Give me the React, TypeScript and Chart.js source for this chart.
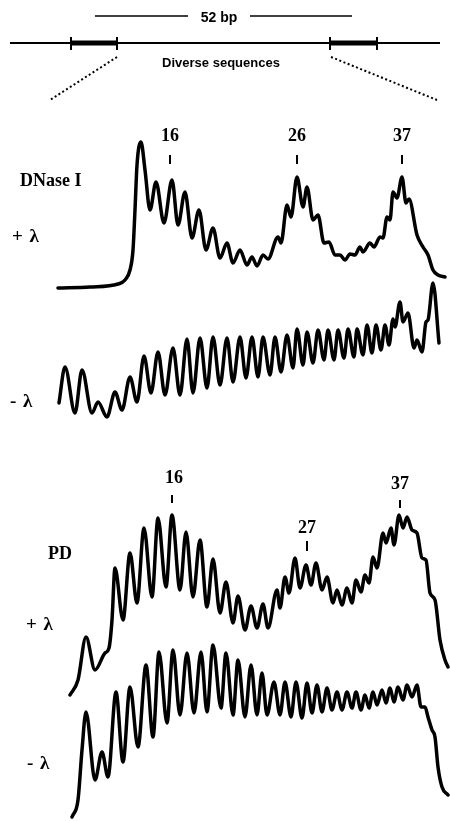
import React, { useEffect, useRef } from "react";
import { Chart, registerables } from "chart.js";
Chart.register(...registerables);

// ---- Densitometer scans (x = scan position, y = relative intensity) ----
const DNASE_PLUS_X = [58, 90, 118, 125, 130, 133, 135, 137, 141, 145, 150, 156, 164, 172, 178, 185, 192, 199, 206, 213, 220, 227, 233, 240, 247, 252, 257, 263, 268, 278, 281, 287, 291, 297, 303, 307, 313, 318, 324, 329, 335, 340, 345, 350, 355, 360, 363, 370, 374, 380, 383, 387, 390, 393, 397, 402, 406, 409, 417, 423, 428, 433, 438, 445];
const DNASE_PLUS_Y = [2, 3, 6, 10, 20, 40, 80, 125, 148, 120, 80, 108, 67, 110, 65, 98, 52, 80, 40, 62, 32, 47, 27, 40, 25, 33, 24, 35, 31, 53, 47, 85, 73, 113, 83, 103, 70, 75, 47, 48, 35, 35, 30, 36, 35, 43, 38, 47, 43, 53, 52, 73, 70, 98, 92, 113, 87, 91, 55, 43, 35, 20, 15, 13];

const DNASE_MINUS_X = [59, 65, 75, 82, 92, 98, 107, 115, 122, 130, 137, 144, 151, 158, 165, 173, 180, 187, 193, 200, 207, 213, 220, 227, 233, 240, 246, 252, 258, 263, 270, 275, 281, 287, 293, 297, 303, 307, 313, 318, 324, 328, 334, 338, 344, 348, 354, 357, 363, 367, 372, 376, 381, 385, 389, 393, 395, 400, 403, 408, 414, 417, 422, 426, 428, 433, 439];
const DNASE_MINUS_Y = [17, 53, 7, 50, 7, 18, 3, 28, 10, 43, 18, 64, 27, 68, 25, 72, 25, 81, 27, 82, 32, 83, 35, 82, 38, 83, 42, 83, 43, 83, 45, 83, 48, 85, 52, 91, 55, 88, 57, 90, 60, 90, 60, 90, 62, 91, 63, 91, 65, 95, 67, 95, 70, 95, 75, 101, 93, 118, 98, 107, 72, 80, 68, 98, 100, 137, 77];

const PD_PLUS_X = [70, 78, 86, 95, 105, 109, 112, 115, 123, 130, 137, 144, 152, 158, 166, 172, 180, 186, 193, 200, 207, 213, 220, 226, 233, 238, 245, 251, 257, 263, 268, 277, 280, 285, 289, 295, 300, 306, 311, 316, 322, 327, 333, 337, 342, 347, 352, 356, 361, 365, 369, 373, 377, 383, 386, 391, 394, 399, 403, 407, 412, 417, 422, 426, 430, 435, 440, 445, 448];
const PD_PLUS_Y = [5, 20, 63, 30, 47, 52, 80, 132, 80, 147, 97, 172, 103, 182, 113, 185, 110, 168, 103, 160, 93, 141, 87, 118, 77, 104, 70, 94, 72, 96, 72, 110, 92, 123, 107, 142, 112, 135, 115, 137, 110, 123, 97, 110, 95, 112, 97, 120, 108, 125, 117, 143, 132, 167, 157, 172, 155, 185, 172, 183, 170, 167, 142, 140, 107, 100, 60, 40, 33];

const PD_MINUS_X = [72, 78, 82, 86, 95, 102, 108, 116, 123, 130, 138, 146, 153, 159, 167, 173, 180, 187, 194, 201, 207, 213, 221, 226, 233, 238, 245, 251, 257, 262, 267, 274, 280, 285, 291, 296, 302, 307, 312, 317, 322, 327, 332, 337, 342, 347, 352, 356, 361, 365, 369, 373, 377, 382, 386, 390, 394, 398, 403, 407, 412, 417, 421, 425, 428, 432, 435, 438, 442, 448];
const PD_MINUS_Y = [3, 20, 70, 108, 40, 68, 43, 128, 58, 133, 73, 155, 83, 168, 97, 170, 105, 167, 107, 168, 108, 175, 112, 167, 105, 160, 103, 155, 105, 147, 105, 138, 105, 138, 103, 138, 102, 137, 107, 135, 108, 132, 110, 128, 110, 128, 112, 128, 110, 125, 112, 128, 115, 130, 117, 132, 118, 133, 120, 135, 123, 135, 113, 113, 103, 90, 83, 53, 33, 25];

// ---- Peak annotations ----
const DNASE_PEAK_LABELS = ["16", "26", "37"];
const DNASE_PEAK_X = [170, 297, 402];
const PD_PEAK_LABELS = ["16", "27", "37"];
const PD_PEAK_X = [172, 307, 400];

// ---- Map of the fragment (positions along the map) ----
const MAP_SPAN = [10, 440];
const MAP_BOXES = [[71, 117], [330, 377]];
const SPAN_52BP = [[95, 188], [250, 352]];
const ZOOM_FROM = [117, 331];
const ZOOM_TO = [50, 437];

// ---- layout (pixel placement of each panel's baseline) ----
const W = 450;
const H = 821;
const BASE_DNASE_PLUS = 290;
const BASE_DNASE_MINUS = 420;
const BASE_PD_PLUS = 700;
const BASE_PD_MINUS = 820;

const pts = (xs: number[], ys: number[]) => xs.map((x, i) => ({ x, y: ys[i] }));

const traceDs = (xs: number[], ys: number[], yAxisID: string) => ({
  data: pts(xs, ys),
  yAxisID,
  borderColor: "#000",
  borderWidth: 3.5,
  cubicInterpolationMode: "monotone" as const,
  borderJoinStyle: "round" as const,
  borderCapStyle: "round" as const,
  pointRadius: 0,
  fill: false,
  clip: false as any,
});

const segDs = (a: { x: number; y: number }, b: { x: number; y: number }, width: number, dash: number[] = [], cap: CanvasLineCap = "butt") => ({
  data: [a, b],
  yAxisID: "ySch",
  borderColor: "#000",
  borderWidth: width,
  borderDash: dash,
  borderCapStyle: cap,
  pointRadius: 0,
  tension: 0,
  fill: false,
  clip: false as any,
});

const yAxis = (base: number) => ({ type: "linear" as const, display: false, min: base - H, max: base });

export default function App() {
  const ref = useRef<HTMLCanvasElement>(null);
  useEffect(() => {
    if (!ref.current) return;
    const MAP_Y = 43;
    const datasets: any[] = [
      traceDs(DNASE_PLUS_X, DNASE_PLUS_Y, "yA"),
      traceDs(DNASE_MINUS_X, DNASE_MINUS_Y, "yB"),
      traceDs(PD_PLUS_X, PD_PLUS_Y, "yC"),
      traceDs(PD_MINUS_X, PD_MINUS_Y, "yD"),
      segDs({ x: MAP_SPAN[0], y: MAP_Y }, { x: MAP_SPAN[1], y: MAP_Y }, 2),
    ];
    MAP_BOXES.forEach(([a, b]) => {
      datasets.push(segDs({ x: a, y: MAP_Y }, { x: b, y: MAP_Y }, 5));
      datasets.push(segDs({ x: a, y: MAP_Y - 6 }, { x: a, y: MAP_Y + 7 }, 2));
      datasets.push(segDs({ x: b, y: MAP_Y - 6 }, { x: b, y: MAP_Y + 7 }, 2));
    });
    SPAN_52BP.forEach(([a, b]) => datasets.push(segDs({ x: a, y: 16 }, { x: b, y: 16 }, 1.5)));
    ZOOM_FROM.forEach((f, i) => datasets.push(segDs({ x: f, y: 57 }, { x: ZOOM_TO[i], y: 100 }, 2, [2, 2.5])));
    DNASE_PEAK_X.forEach((x) => datasets.push(segDs({ x, y: 155 }, { x, y: 164 }, 2)));
    const pdTickY = [[495, 503], [541, 551], [500, 508]];
    PD_PEAK_X.forEach((x, i) => datasets.push(segDs({ x, y: pdTickY[i][0] }, { x, y: pdTickY[i][1] }, 2)));

    const chart = new Chart(ref.current, {
      type: "line",
      data: { datasets },
      options: {
        animation: false,
        responsive: false,
        devicePixelRatio: 1,
        layout: { padding: 0 },
        plugins: { legend: { display: false }, tooltip: { enabled: false } },
        elements: { point: { radius: 0 } },
        scales: {
          x: { type: "linear", display: false, min: 0, max: W },
          yA: yAxis(BASE_DNASE_PLUS),
          yB: yAxis(BASE_DNASE_MINUS),
          yC: yAxis(BASE_PD_PLUS),
          yD: yAxis(BASE_PD_MINUS),
          ySch: { type: "linear", display: false, min: 0, max: H, reverse: true },
        },
      },
    });
    return () => chart.destroy();
  }, []);

  const serif = "'Liberation Serif', 'Times New Roman', serif";
  const sans = "'Liberation Sans', Arial, sans-serif";
  const label = (text: string, x: number, y: number, font: string, size: number, center = true, extra: any = {}) => (
    <div
      key={text + x + y}
      style={{
        position: "absolute",
        left: x,
        top: y,
        transform: center ? "translate(-50%, -50%)" : "translate(0, -50%)",
        fontFamily: font,
        fontSize: size,
        fontWeight: "bold",
        lineHeight: 1,
        whiteSpace: "nowrap",
        color: "#000",
        ...extra,
      }}
    >
      {text}
    </div>
  );

  return (
    <div style={{ position: "absolute", left: 0, top: 0, width: W, height: H, background: "#fff", overflow: "hidden" }}>
      <canvas ref={ref} width={W} height={H} style={{ position: "absolute", left: 0, top: 0, width: W, height: H }} />
      {label("52 bp", 219, 17, sans, 14)}
      {label("Diverse sequences", 221, 62, sans, 13)}
      {label("DNase I", 20, 180, serif, 18, false)}
      {label("+ λ", 12, 235, serif, 19, false, { letterSpacing: 1 })}
      {label("- λ", 10, 400, serif, 19, false, { letterSpacing: 1 })}
      {DNASE_PEAK_LABELS.map((t, i) => label(t, DNASE_PEAK_X[i], 135, serif, 18))}
      {label("PD", 48, 553, serif, 18, false)}
      {label("+ λ", 26, 623, serif, 19, false, { letterSpacing: 1 })}
      {label("- λ", 27, 762, serif, 19, false, { letterSpacing: 1 })}
      {label(PD_PEAK_LABELS[0], 174, 477, serif, 18)}
      {label(PD_PEAK_LABELS[1], PD_PEAK_X[1], 527, serif, 18)}
      {label(PD_PEAK_LABELS[2], PD_PEAK_X[2], 483, serif, 18)}
    </div>
  );
}
